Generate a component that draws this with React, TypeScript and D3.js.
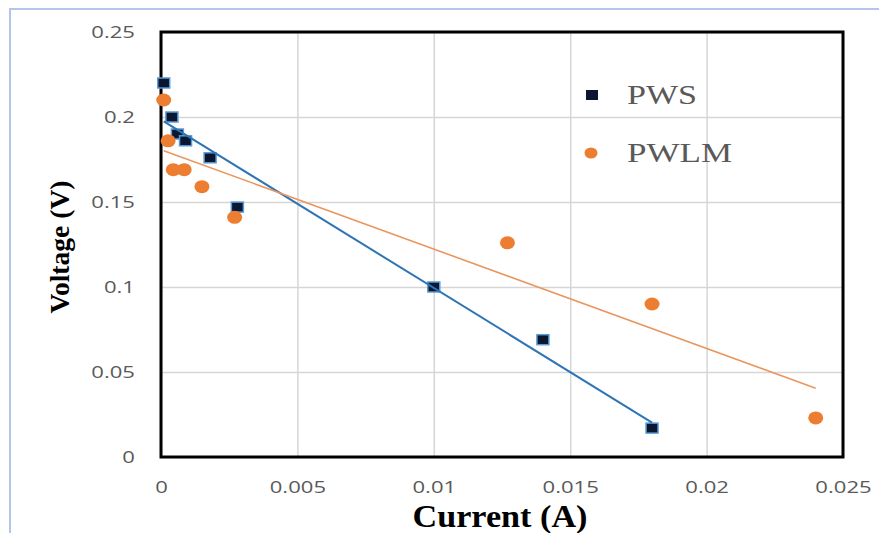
import React, { useEffect, useRef } from 'react'
import * as d3 from 'd3'

const xTicks = [0, 0.005, 0.01, 0.015, 0.02, 0.025]
const xTickLabels = ['0', '0.005', '0.01', '0.015', '0.02', '0.025']
const yTicks = [0, 0.05, 0.1, 0.15, 0.2, 0.25]
const yTickLabels = ['0', '0.05', '0.1', '0.15', '0.2', '0.25']

const seriesNames = ['PWS', 'PWLM']
const pwsCurrent = [0.0001, 0.0004, 0.0006, 0.0009, 0.0018, 0.0028, 0.01, 0.014, 0.018]
const pwsVoltage = [0.22, 0.2, 0.19, 0.186, 0.176, 0.147, 0.1, 0.069, 0.017]
const pwlmCurrent = [0.0001, 0.00026, 0.00045, 0.00085, 0.0015, 0.0027, 0.0127, 0.018, 0.024]
const pwlmVoltage = [0.21, 0.186, 0.169, 0.169, 0.159, 0.141, 0.126, 0.09, 0.023]

const width = 879
const height = 533
const margin = { top: 32, right: 36, bottom: 76, left: 161 }

// least squares fit, same as excel's linear trendline
function linearFit(xs: number[], ys: number[]) {
  const mx = d3.mean(xs) as number
  const my = d3.mean(ys) as number
  let sxy = 0
  let sxx = 0
  xs.forEach((x, i) => {
    sxy += (x - mx) * (ys[i] - my)
    sxx += (x - mx) * (x - mx)
  })
  const slope = sxy / sxx
  const intercept = my - slope * mx
  const x0 = d3.min(xs) as number
  const x1 = d3.max(xs) as number
  return [
    [x0, intercept + slope * x0],
    [x1, intercept + slope * x1],
  ]
}

export default function App() {
  const ref = useRef<SVGSVGElement>(null)

  useEffect(() => {
    const svg = d3.select(ref.current)
    svg.selectAll('*').remove()

    const chartWidth = width - margin.left - margin.right
    const chartHeight = height - margin.top - margin.bottom

    const xScale = d3.scaleLinear().domain([0, 0.025]).range([0, chartWidth])
    const yScale = d3.scaleLinear().domain([0, 0.25]).range([chartHeight, 0])

    // light blue outer frame
    svg.append('rect')
      .attr('x', 10).attr('y', 9)
      .attr('width', 900).attr('height', 600)
      .attr('fill', 'none')
      .attr('stroke', '#b3c6ea')
      .attr('stroke-width', 2)

    const g = svg.append('g')
      .attr('transform', 'translate(' + margin.left + ',' + margin.top + ')')

    // gridlines
    const gx = g.append('g')
      .attr('transform', 'translate(0,' + chartHeight + ')')
      .call(d3.axisBottom(xScale).tickValues(xTicks).tickSize(-chartHeight).tickFormat(() => ''))
    const gy = g.append('g')
      .call(d3.axisLeft(yScale).tickValues(yTicks).tickSize(-chartWidth).tickFormat(() => ''))
    ;[gx, gy].forEach((a) => {
      a.select('.domain').remove()
      a.selectAll('line').attr('stroke', '#d6d6d6').attr('stroke-width', 1.5)
    })

    // plot border
    g.append('rect')
      .attr('width', chartWidth)
      .attr('height', chartHeight)
      .attr('fill', 'none')
      .attr('stroke', '#000')
      .attr('stroke-width', 3)

    // tick labels
    const xAxis = g.append('g')
      .attr('transform', 'translate(0,' + chartHeight + ')')
      .call(d3.axisBottom(xScale).tickValues(xTicks).tickSize(0).tickFormat((d, i) => xTickLabels[i]))
    xAxis.select('.domain').remove()
    xAxis.selectAll('text')
      .attr('y', 30)
      .attr('dy', '0.35em')
      .attr('transform', 'scale(1.3,1)')

    const yAxis = g.append('g')
      .call(d3.axisLeft(yScale).tickValues(yTicks).tickSize(0).tickFormat((d, i) => yTickLabels[i]))
    yAxis.select('.domain').remove()
    yAxis.selectAll('text')
      .attr('x', -26 / 1.3)
      .attr('dy', '0.35em')
      .attr('transform', 'scale(1.3,1)')

    ;[xAxis, yAxis].forEach((a) => {
      a.selectAll('text')
        .attr('fill', '#595959')
        .style('font-family', '"Open Sans", sans-serif')
        .style('font-size', '17px')
    })

    // data markers
    const pwsData = pwsCurrent.map((c, i) => ({ c, v: pwsVoltage[i] }))
    const pwlmData = pwlmCurrent.map((c, i) => ({ c, v: pwlmVoltage[i] }))

    g.selectAll('.pws')
      .data(pwsData)
      .enter()
      .append('rect')
      .attr('class', 'pws')
      .attr('x', (d) => xScale(d.c) - 6)
      .attr('y', (d) => yScale(d.v) - 5)
      .attr('width', 12)
      .attr('height', 10)
      .attr('fill', '#0b1630')
      .attr('stroke', '#5b9bd5')
      .attr('stroke-width', 1.5)

    g.selectAll('.pwlm')
      .data(pwlmData)
      .enter()
      .append('ellipse')
      .attr('class', 'pwlm')
      .attr('cx', (d) => xScale(d.c))
      .attr('cy', (d) => yScale(d.v))
      .attr('rx', 7.5)
      .attr('ry', 6.5)
      .attr('fill', '#ed7d31')

    // trendlines
    const line = d3.line<number[]>()
      .x((d) => xScale(d[0]))
      .y((d) => yScale(d[1]))

    g.append('path')
      .attr('d', line(linearFit(pwsCurrent, pwsVoltage)))
      .attr('fill', 'none')
      .attr('stroke', '#2e75b6')
      .attr('stroke-width', 2)

    g.append('path')
      .attr('d', line(linearFit(pwlmCurrent, pwlmVoltage)))
      .attr('fill', 'none')
      .attr('stroke', '#e9965f')
      .attr('stroke-width', 1.6)

    // legend
    const legend = svg.append('g')
    legend.append('rect')
      .attr('x', 586).attr('y', 90)
      .attr('width', 12).attr('height', 10)
      .attr('fill', '#0b1630')
    legend.append('ellipse')
      .attr('cx', 591).attr('cy', 153)
      .attr('rx', 6.5).attr('ry', 5.5)
      .attr('fill', '#ed7d31')
    legend.selectAll('.legend-label')
      .data(seriesNames)
      .enter()
      .append('text')
      .attr('class', 'legend-label')
      .attr('x', 627)
      .attr('y', (d, i) => (i === 0 ? 104 : 162))
      .attr('textLength', (d, i) => (i === 0 ? 70 : 105))
      .attr('lengthAdjust', 'spacingAndGlyphs')
      .attr('fill', '#595959')
      .style('font-family', '"Liberation Serif", "Times New Roman", serif')
      .style('font-size', '27px')
      .text((d) => d)

    // axis titles
    svg.append('text')
      .attr('x', 500)
      .attr('y', 527)
      .attr('text-anchor', 'middle')
      .attr('textLength', 175)
      .attr('lengthAdjust', 'spacingAndGlyphs')
      .style('font-family', '"Liberation Serif", "Times New Roman", serif')
      .style('font-weight', 'bold')
      .style('font-size', '31px')
      .text('Current (A)')

    svg.append('text')
      .attr('transform', 'translate(69,247) rotate(-90)')
      .attr('text-anchor', 'middle')
      .attr('textLength', 133)
      .attr('lengthAdjust', 'spacingAndGlyphs')
      .style('font-family', '"Liberation Serif", "Times New Roman", serif')
      .style('font-weight', 'bold')
      .style('font-size', '28px')
      .text('Voltage (V)')
  }, [])

  return (
    <div style={{ position: 'absolute', left: 0, top: 0 }}>
      <svg ref={ref} width={width} height={height} style={{ display: 'block', background: '#fff' }} />
    </div>
  )
}
